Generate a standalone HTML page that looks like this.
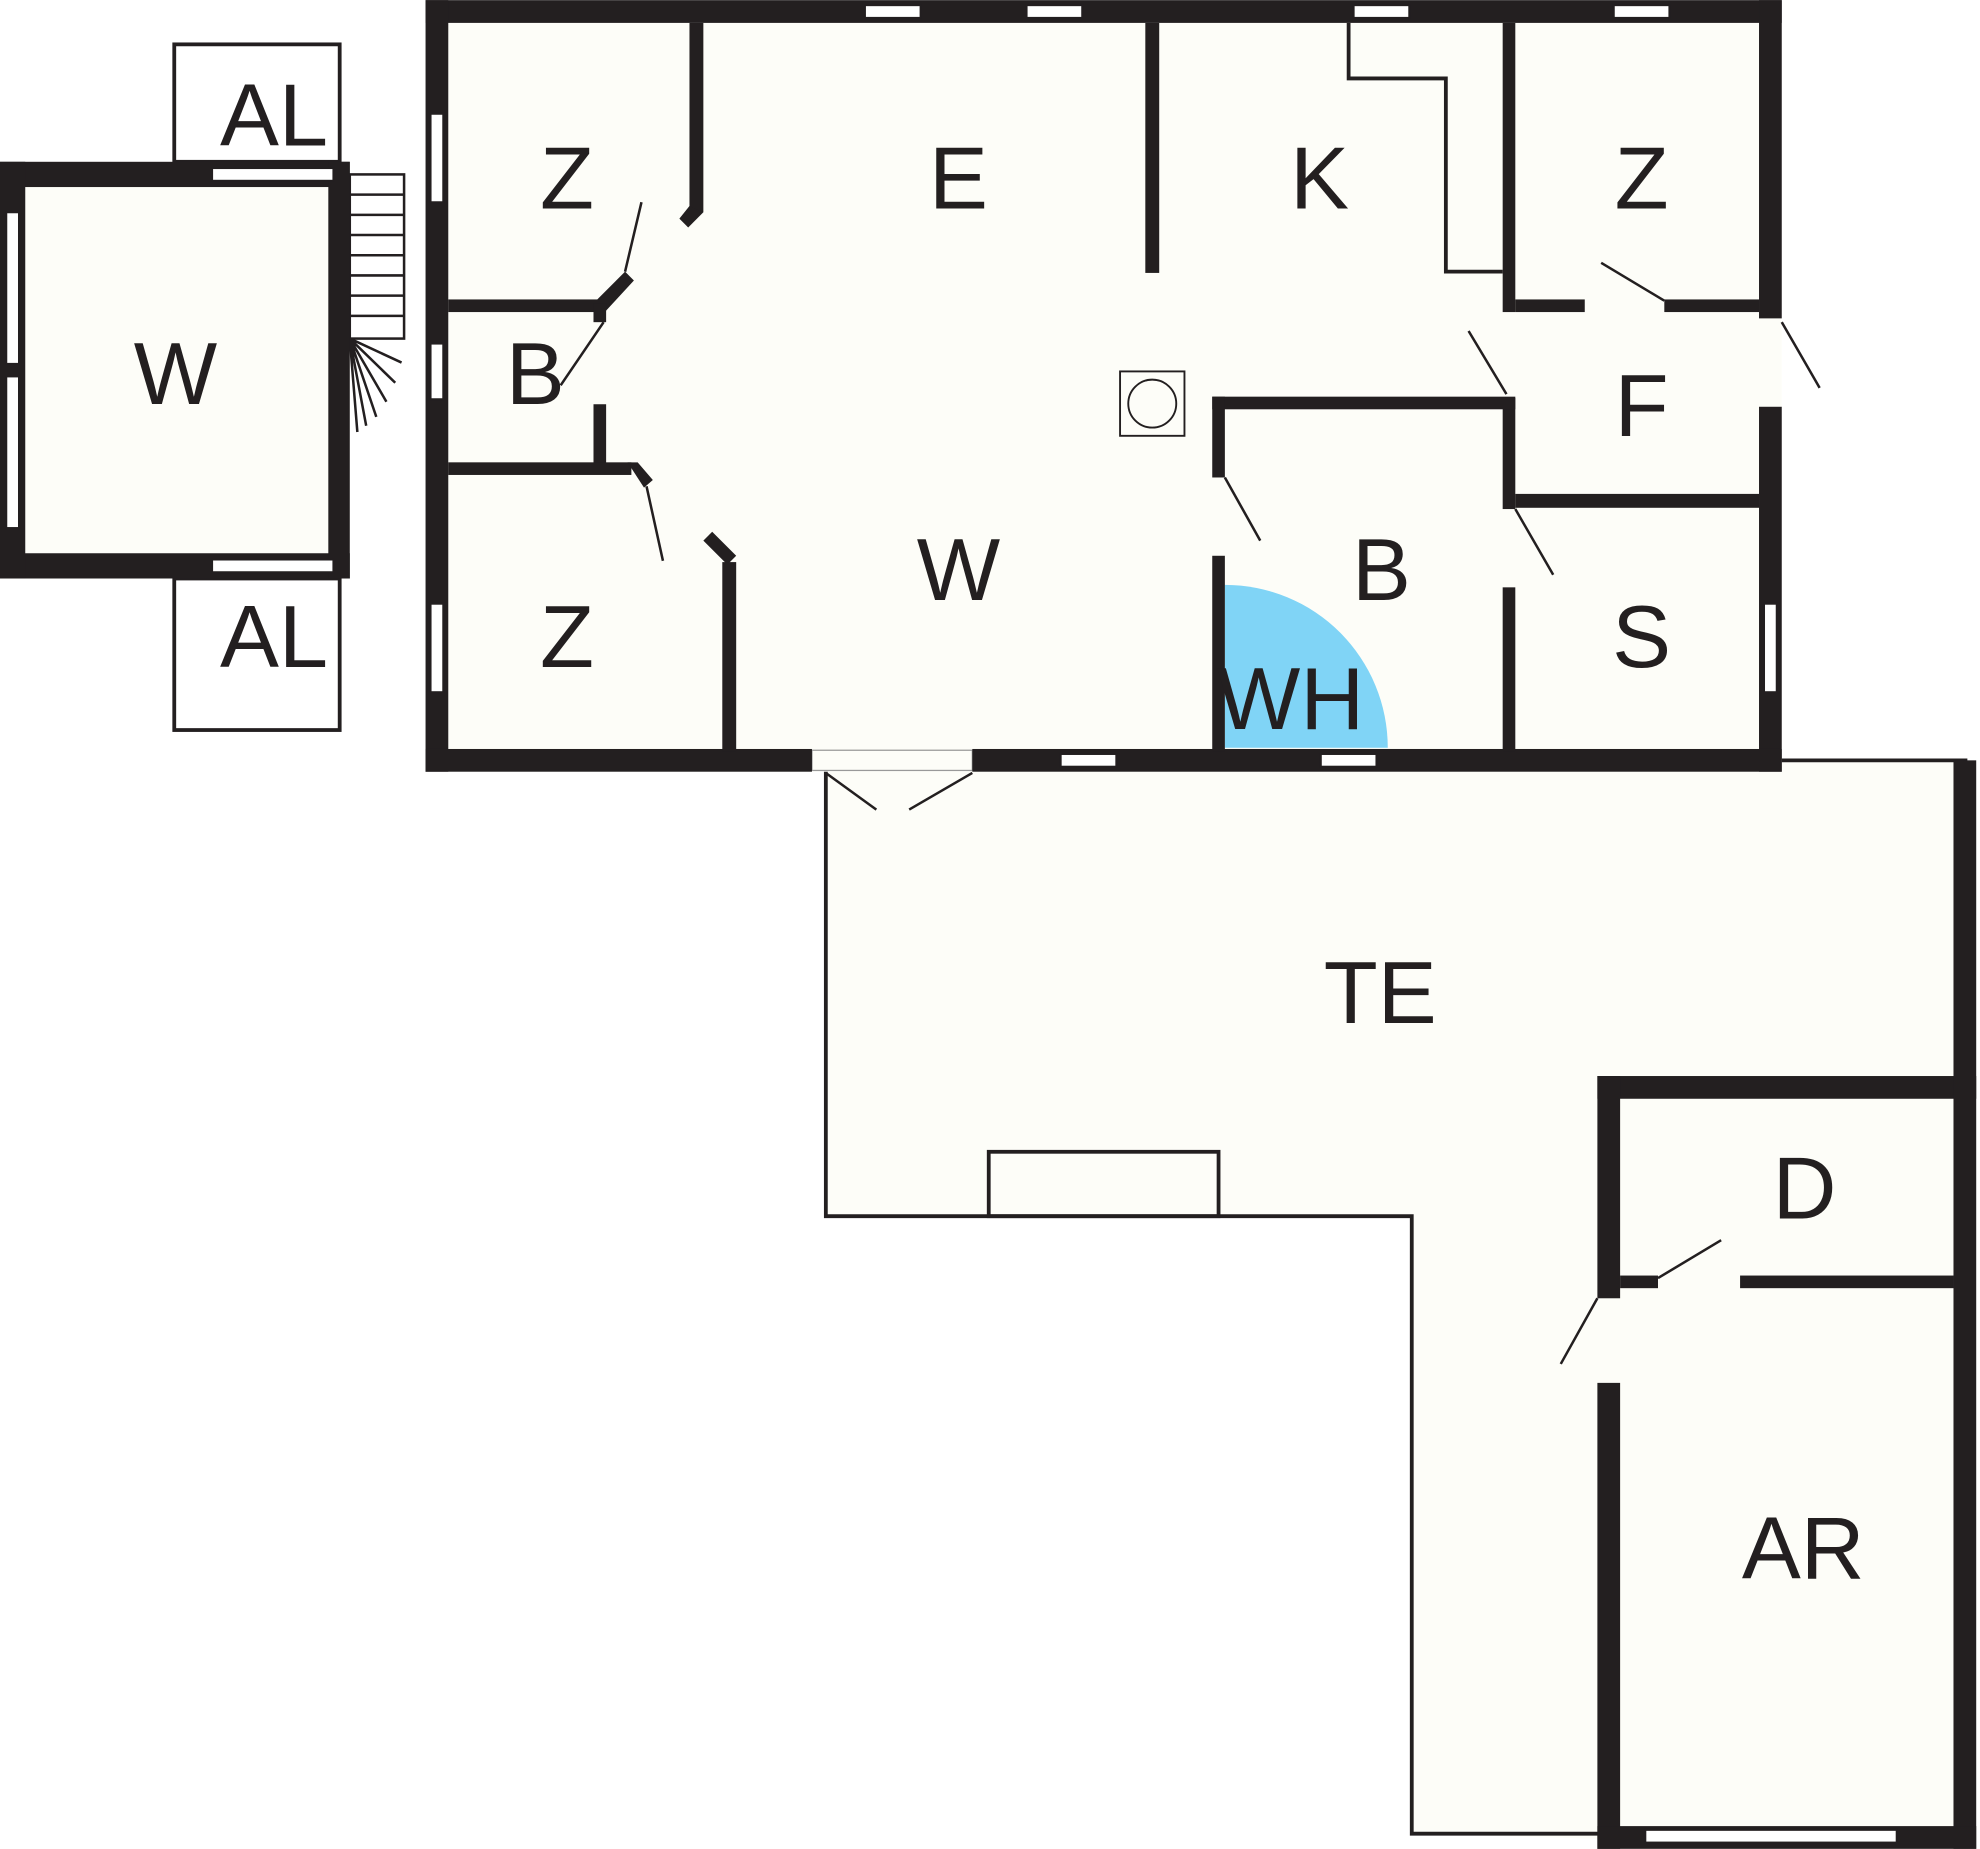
<!DOCTYPE html>
<html><head><meta charset="utf-8"><style>html,body{margin:0;padding:0;background:#fff}svg{display:block}</style></head>
<body>
<svg width="1980" height="1849" viewBox="0 0 1568 1464" xmlns="http://www.w3.org/2000/svg">
<g fill="#fdfdf8" stroke="none">
<rect x="337" y="0" width="1074" height="611"/>
<rect x="0" y="128" width="277" height="330"/>
<polygon points="654,611 1411,602 1558,602 1558,1464 1118,1452 1118,963 654,963"/>
</g>
<g fill="none" stroke="#231f20" stroke-width="3">
<rect x="138" y="35" width="131" height="93"/>
<rect x="138" y="458" width="131" height="120"/>
<polyline points="654,611 654,963 1118,963 1118,1452 1267,1452"/>
<polyline points="1411,602 1558,602"/>
<rect x="783" y="912" width="182" height="51"/>
<polyline points="1068,18 1068,62 1145,62 1145,215 1190,215"/>
<rect x="887" y="294" width="51" height="51" stroke-width="1.5"/>
<circle cx="912.5" cy="319.5" r="19" stroke-width="1.5"/>
</g>
<rect x="643" y="594" width="127" height="16" fill="none" stroke="#999" stroke-width="1"/>
<g fill="none" stroke="#231f20" stroke-width="2">
<rect x="277" y="138" width="43" height="130"/>
<path d="M277 154H320M277 170H320M277 186H320M277 202H320M277 218H320M277 234H320M277 250H320"/>
<path d="M277 268L318 287M277 268L313 303M277 268L306 318M277 268L298 330M277 268L290 337M277 268L283 342"/>
</g>
<path d="M970 592 L970 463 A129 129 0 0 1 1099 592 Z" fill="#80d4f6"/>
<g fill="#231f20">
<rect x="337" y="0" width="1074" height="18"/>
<rect x="337" y="0" width="18" height="611"/>
<rect x="1393" y="0" width="18" height="252"/>
<rect x="1393" y="322" width="18" height="289"/>
<rect x="337" y="593" width="306" height="18"/>
<rect x="770" y="593" width="641" height="18"/>
<rect x="355" y="237" width="120" height="10"/>
<rect x="546" y="18" width="11" height="150"/>
<polygon points="546,163 557,168 545,180 538,173"/>
<polygon points="470,240 495,215 502,222 478,248"/>
<rect x="470" y="240" width="10" height="15"/>
<rect x="470" y="320" width="10" height="48"/>
<rect x="355" y="366" width="145" height="10"/>
<polygon points="497,366 505,366 517,380 510,386"/>
<polygon points="557,428 564,421 583,440 576,447"/>
<rect x="572" y="445" width="11" height="150"/>
<rect x="907" y="18" width="11" height="198"/>
<rect x="1190" y="18" width="10" height="229"/>
<rect x="1190" y="315" width="10" height="88"/>
<rect x="1190" y="465" width="10" height="130"/>
<rect x="1200" y="237" width="55" height="10"/>
<rect x="1318" y="237" width="75" height="10"/>
<rect x="1200" y="391" width="193" height="11"/>
<rect x="960" y="314" width="240" height="10"/>
<rect x="960" y="314" width="10" height="64"/>
<rect x="960" y="440" width="10" height="155"/>
<rect x="0" y="128" width="277" height="20"/>
<rect x="0" y="438" width="277" height="20"/>
<rect x="0" y="128" width="20" height="330"/>
<rect x="260" y="128" width="17" height="330"/>
<rect x="1265" y="852" width="300" height="18"/>
<rect x="1547" y="602" width="18" height="862"/>
<rect x="1265" y="852" width="18" height="176"/>
<rect x="1265" y="1095" width="18" height="369"/>
<rect x="1265" y="1446" width="300" height="18"/>
<rect x="1283" y="1010" width="30" height="10"/>
<rect x="1378" y="1010" width="169" height="10"/>
</g>
<g fill="#fff" stroke="#231f20" stroke-width="1.5">
<rect x="685" y="4" width="44" height="10"/><rect x="813" y="4" width="44" height="10"/>
<rect x="1072" y="4" width="44" height="10"/><rect x="1278" y="4" width="44" height="10"/>
<rect x="341" y="90" width="10" height="70"/><rect x="341" y="272" width="10" height="44"/>
<rect x="341" y="478" width="10" height="70"/><rect x="1397" y="478" width="10" height="70"/>
<rect x="840" y="597" width="44" height="10"/><rect x="1046" y="597" width="44" height="10"/>
<rect x="168" y="133" width="96" height="10"/><rect x="168" y="443" width="96" height="10"/>
<rect x="5" y="168" width="10" height="120"/><rect x="5" y="298" width="10" height="120"/>
<rect x="1303" y="1449" width="199" height="10"/>
</g>
<g stroke="#231f20" stroke-width="2" fill="none">
<path d="M495 215L508 160M478 255L444 305M512 385L525 444"/>
<path d="M654 612L694 641M770 612L720 641"/>
<path d="M1193 312L1163 262M1318 238L1268 208M1411 255L1441 307M1200 403L1230 455M970 378L998 428"/>
<path d="M1313 1012L1363 982M1265 1028L1236 1080"/>
</g>
<g font-family="Liberation Sans, Arial, sans-serif" font-size="70" fill="#231f20" text-anchor="middle">
<text x="449" y="165">Z</text><text x="759" y="165">E</text><text x="1045" y="165">K</text><text x="1300" y="165">Z</text>
<text x="424" y="320">B</text><text x="1300" y="345">F</text><text x="139" y="320">W</text>
<text x="759" y="475">W</text><text x="1094" y="475">B</text><text x="1300" y="528">S</text>
<text x="1022" y="577">WH</text><text x="449" y="528">Z</text>
<text x="217" y="115">AL</text><text x="217" y="528">AL</text>
<text x="1093" y="810">TE</text><text x="1429" y="965">D</text><text x="1428" y="1250">AR</text>
</g>
</svg>
</body></html>
